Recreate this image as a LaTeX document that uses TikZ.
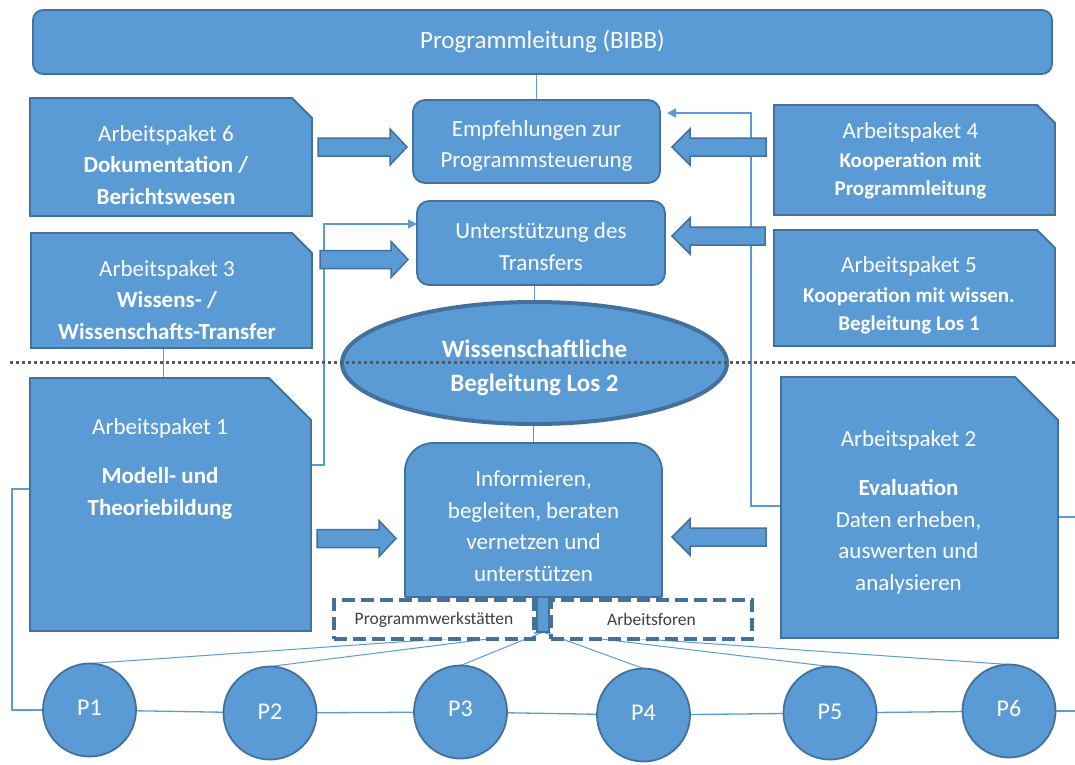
\documentclass[tikz,border=0pt]{standalone}
\usepackage{fontspec}
\setmainfont{Carlito}
\usetikzlibrary{arrows.meta,shapes.geometric,backgrounds}
\definecolor{fillblue}{HTML}{5B9BD5}
\definecolor{edgeblue}{HTML}{41719C}
\definecolor{dotgray}{HTML}{595959}
\definecolor{txtgray}{HTML}{404040}
\newcommand\rblock[3]{\draw[blockarrow] (#1,#3-9) -- (#2-17,#3-9) -- (#2-17,#3-18) -- (#2,#3) -- (#2-17,#3+18) -- (#2-17,#3+9) -- (#1,#3+9) -- cycle;}
\newcommand\lblock[3]{\draw[blockarrow] (#1,#3) -- (#1+18,#3-18) -- (#1+18,#3-9) -- (#2,#3-9) -- (#2,#3+9) -- (#1+18,#3+9) -- (#1+18,#3+18) -- cycle;}
\newcommand\snipbox[2]{\draw[bluebox] (#1.south west) -- (#1.north west) -- ([xshift=-#2]#1.north east) -- ([yshift=-#2]#1.north east) -- (#1.south east) -- cycle;}
\begin{document}
\begin{tikzpicture}[x=1pt,y=-1pt,
  every node/.style={inner sep=0pt,outer sep=0pt},
  bluebox/.style={fill=fillblue,draw=edgeblue,line width=1.8pt},
  boxsize/.style 2 args={minimum width=#1,minimum height=#2,draw=none},
  wtext/.style={text=white,align=center,font=\fontsize{23}{31.5}\selectfont},
  link/.style={draw=fillblue,line width=1.3pt},
  linkarrow/.style={link,-{Triangle[length=9pt,width=9pt]}},
  blockarrow/.style={fill=fillblue,draw=edgeblue,line width=1.5pt,line join=miter},
  dashbox/.style={fill=white,draw=edgeblue,line width=3.5pt,dash pattern=on 13pt off 6pt,text=txtgray,font=\fontsize{17.5}{20}\selectfont},
  pcircle/.style={circle,bluebox,minimum size=93pt,text=white,font=\fontsize{24}{28}\selectfont},
  dotline/.style={draw=dotgray,line width=3pt,dash pattern=on 3pt off 3pt}]
\useasboundingbox (0,0) rectangle (1075,764);

% top boxes
\node[bluebox,rounded corners=10pt,minimum width=1019pt,minimum height=64pt,text=white,font=\fontsize{25}{30}\selectfont] (top) at (542.5,42) {Programmleitung (BIBB)};
\node[bluebox,rounded corners=12pt,minimum width=247pt,minimum height=83pt] (empf) at (536.5,141.5) {};
\node[wtext] (empft) at (536.5,146) {Empfehlungen zur\\Programmsteuerung};
\node[bluebox,rounded corners=12pt,minimum width=248pt,minimum height=84pt] (unter) at (541,243) {};
\node[wtext] (untert) at (541,246.5) {Unterstützung des\\Transfers};

% work package areas
\node[boxsize={282pt}{118pt}] (ap6) at (171,157) {};
\node[boxsize={281pt}{115pt}] (ap3) at (171.5,290.5) {};
\node[boxsize={281pt}{110pt}] (ap4) at (914.5,160) {};
\node[boxsize={281pt}{116pt}] (ap5) at (914.5,288) {};
\node[boxsize={281pt}{253pt}] (ap1) at (170.5,504.5) {};
\node[boxsize={277pt}{261pt}] (ap2) at (919.5,507.5) {};
\snipbox{ap6}{20pt}
\snipbox{ap3}{20pt}
\snipbox{ap4}{18pt}
\snipbox{ap5}{18pt}
\snipbox{ap1}{42pt}
\snipbox{ap2}{43pt}

\node[wtext] (ap6t) at (166,165) {Arbeitspaket 6\\\textbf{Dokumentation /}\\\textbf{Berichtswesen}};
\node[wtext] (ap3t) at (167,300) {Arbeitspaket 3\\\textbf{Wissens- /}\\\textbf{Wissenschafts-Transfer}};
\node[wtext] (ap4t) at (910.5,161) {Arbeitspaket 4\\[-2.5pt]{\fontsize{21}{29}\selectfont\bfseries Kooperation mit}\\[-3pt]{\fontsize{21}{29}\selectfont\bfseries Programmleitung}};
\node[wtext] (ap5t) at (909,295.5) {Arbeitspaket 5\\[-2pt]{\fontsize{21}{29}\selectfont\bfseries Kooperation mit wissen.}\\[-3.5pt]{\fontsize{21}{29}\selectfont\bfseries Begleitung Los 1}};
\node[wtext] (ap1t) at (160,468.5) {Arbeitspaket 1\\[18pt]\textbf{Modell- und}\\\textbf{Theoriebildung}};
\node[wtext] (ap2t) at (908.5,512) {Arbeitspaket 2\\[18pt]\textbf{Evaluation}\\Daten erheben,\\auswerten und\\analysieren};

% central ellipse
\node[ellipse,fill=fillblue,draw=edgeblue,line width=4pt,minimum width=385pt,minimum height=122pt] (ell) at (534.5,363) {};

% informing box
\node[boxsize={257pt}{154pt}] (inf) at (533.5,520) {};
\filldraw[bluebox,rounded corners=28pt] (inf.south west) -- (inf.north west) -- (inf.north east) -- (inf.south east);
\draw[edgeblue,line width=1.8pt] (inf.south west) -- (inf.south east);
\node[wtext] (inft) at (533.5,526) {Informieren,\\begleiten, beraten\\vernetzen und\\unterstützen};
\node[bluebox,line width=1.5pt,minimum width=12pt,minimum height=35pt] (stem) at (543,614.5) {};

% dashed boxes
\node[dashbox,minimum width=200pt,minimum height=39pt] (pw) at (434,619.5) {Programmwerkstätten};
\node[dashbox,minimum width=201pt,minimum height=39pt] (af) at (651.5,619.5) {Arbeitsforen};

% circles
\node[pcircle] (p1) at (89.5,710) {\raisebox{4pt}{P1}};
\node[pcircle] (p2) at (270,713) {\raisebox{3pt}{P2}};
\node[pcircle] (p3) at (460.5,712) {\raisebox{6pt}{P3}};
\node[pcircle] (p4) at (643.5,715) {\raisebox{4pt}{P4}};
\node[pcircle] (p5) at (830,713) {\raisebox{3pt}{P5}};
\node[pcircle] (p6) at (1009,711) {\raisebox{6pt}{P6}};

% block arrows
\rblock{318}{407}{147}
\rblock{320}{408}{259.5}
\rblock{317}{396}{538.5}
\lblock{672}{766}{147}
\lblock{672}{765}{236}
\lblock{672}{766}{537}

% dotted separator
\coordinate (dl) at (10,362.5);
\coordinate (dr) at (1075,362.5);
\draw[dotline] (dl) -- (dr);

% ellipse text above the separator
\node[text=white,align=center,font=\bfseries\fontsize{25}{34}\selectfont] (ellt) at (534.5,367.5) {Wissenschaftliche\\Begleitung Los 2};

% thin connectors
\begin{scope}[on background layer]
\draw[link] (empf.north) -- (empf.north |- top.south);
\draw[link] (ell.north) -- (ell.north |- unter.south);
\draw[link] (inf.north) -- (inf.north |- ell.south);
\draw[link] ([xshift=-8pt]ap3.south) -- ([xshift=-8pt]ap3.south |- ap1.north);
\draw[linkarrow] ([yshift=39.5pt]ap1.east) -- ++(13pt,0) |- ([yshift=19pt]unter.west);
\draw[linkarrow,shorten >=7pt] ([yshift=1.5pt]ap2.west) -- ++(-30pt,0) |- ([yshift=28.5pt]empf.east);
\draw[link] ([yshift=15.5pt]ap1.west) -- ++(-18pt,0) |- (p1.west);
\draw[link] ([yshift=-9.5pt]ap2.east) -- ++(20pt,0);
\draw[link] (p1) -- (p2) -- (p3) -- (p4) -- (p5) -- (p6);
\draw[link] (p6.east) -- ++(20pt,0);
\foreach \p in {p1,p2,p3,p4,p5,p6} \draw[link,line width=1pt] (stem.south) -- (\p.north);
\end{scope}
\end{tikzpicture}
\end{document}
